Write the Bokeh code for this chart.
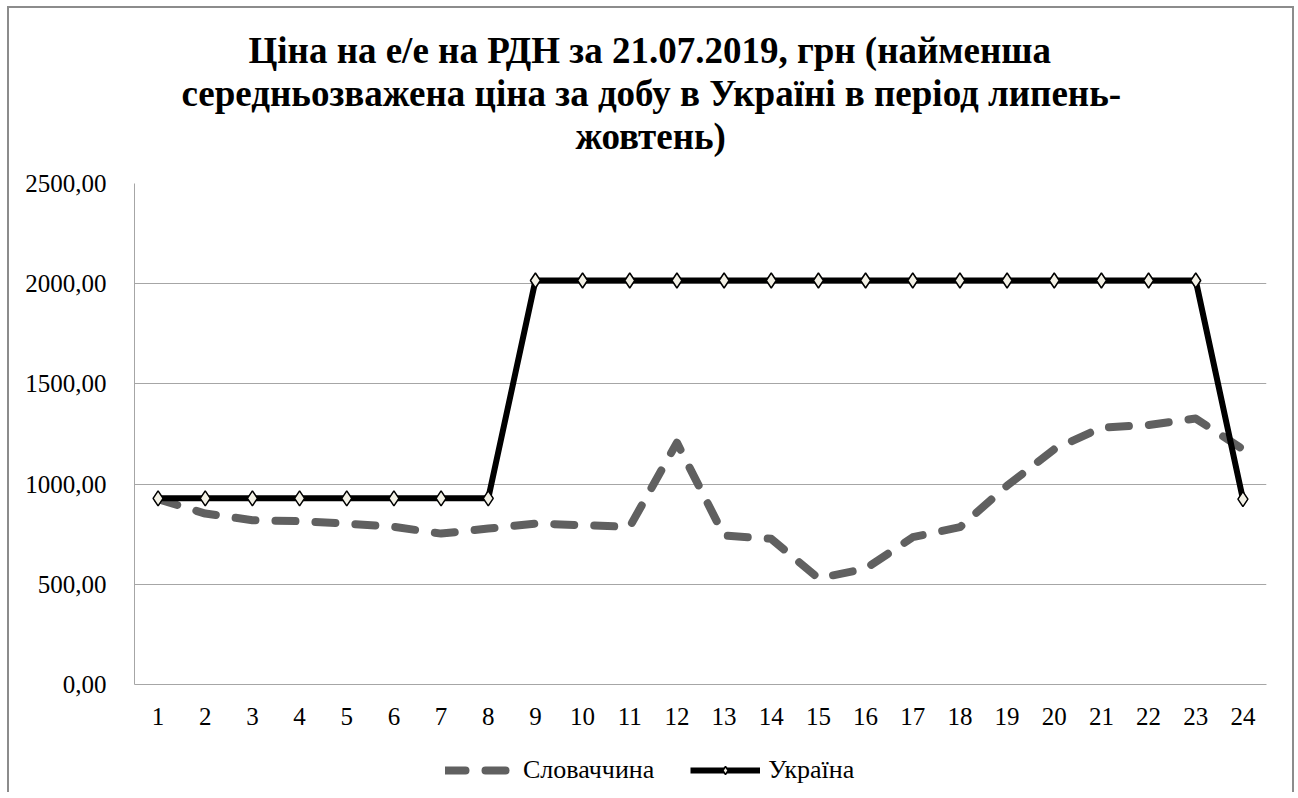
from bokeh.plotting import figure
from bokeh.layouts import column
from bokeh.models import Title, FixedTicker, Legend, LegendItem, Range1d
from bokeh.embed import file_html
from bokeh.resources import INLINE

hours = list(range(1, 25))
slovakia = [925, 853, 820, 815, 803, 787, 753, 778, 803, 795, 787, 1207,
            743, 727, 530, 578, 735, 785, 992, 1174, 1282, 1295, 1327, 1174]
ukraine = [929, 929, 929, 929, 929, 929, 929, 929, 2016, 2016, 2016, 2016,
           2016, 2016, 2016, 2016, 2016, 2016, 2016, 2016, 2016, 2016, 2016, 925]
y_ticks = [0, 500, 1000, 1500, 2000, 2500]
y_labels = ["0,00", "500,00", "1000,00", "1500,00", "2000,00", "2500,00"]
title_lines = ["Ціна на е/е на РДН за 21.07.2019, грн (найменша",
               "середньозважена ціна за добу в Україні в період липень-",
               "жовтень)"]
title_offsets = [114, 47, 441]
names = ["Словаччина", "Україна"]

FONT = "Liberation Serif"
SK_STYLE = dict(line_color="#606060", line_width=8, line_dash="20 20",
                line_cap="round", line_join="round")
UA_LINE = dict(line_color="black", line_width=6, line_join="round")
UA_MARK = dict(marker="diamond", size=15, fill_color="#f3f1e6",
               line_color="black", line_width=1.5)

p = figure(frame_width=1132, frame_height=501, output_backend="svg",
           toolbar_location=None,
           x_range=Range1d(0.5, 24.5), y_range=Range1d(0, 2500),
           min_border_left=125, min_border_right=26, min_border_top=175,
           min_border_bottom=50)
p.outline_line_color = None
p.background_fill_color = "white"
p.border_fill_color = "white"

p.add_layout(Title(text=" ", text_font=FONT, text_font_size="22px", standoff=0), "above")
for line, off in reversed(list(zip(title_lines, title_offsets))):
    t = Title(text=line, align="left", offset=off, text_font=FONT,
              text_font_size="37px", text_font_style="bold",
              text_color="black", standoff=0)
    p.add_layout(t, "above")

p.xgrid.grid_line_color = None
p.ygrid.grid_line_color = "#a6a6a6"
p.ygrid.grid_line_width = 1

p.yaxis.ticker = FixedTicker(ticks=y_ticks)
p.yaxis.major_label_overrides = {t: l for t, l in zip(y_ticks, y_labels)}
p.xaxis.ticker = FixedTicker(ticks=hours)
p.xaxis.major_label_overrides = {h: str(h) for h in hours}
for ax in (p.xaxis, p.yaxis):
    ax.axis_line_color = "#a6a6a6"
    ax.axis_line_width = 1
    ax.major_tick_line_color = None
    ax.minor_tick_line_color = None
    ax.major_label_text_font = FONT
    ax.major_label_text_font_size = "25px"
    ax.major_label_text_color = "black"
p.yaxis.major_label_standoff = 22
p.xaxis.major_label_standoff = 17

p.line(hours, slovakia, **SK_STYLE)
p.line(hours, ukraine, **UA_LINE)
p.scatter(hours, ukraine, **UA_MARK)

# legend strip below the chart (sample glyphs sit outside the visible range)
q = figure(frame_width=1283, frame_height=58, output_backend="svg",
           toolbar_location=None, x_axis_location=None, y_axis_location=None,
           x_range=Range1d(0, 1), y_range=Range1d(0, 1),
           min_border=0, min_border_left=0, min_border_right=0,
           min_border_top=0, min_border_bottom=0)
q.outline_line_color = None
q.xgrid.grid_line_color = None
q.ygrid.grid_line_color = None
q.background_fill_color = "white"
q.border_fill_color = "white"
off_x = [-5, -4]
off_y = [-5, -5]
l_sk = q.line(x=off_x, y=off_y, **SK_STYLE)
l_ua = q.line(x=off_x, y=off_y, **UA_LINE)
l_ua_m = q.scatter(x=off_x, y=off_y, **UA_MARK)

legend = Legend(items=[LegendItem(label=names[0], renderers=[l_sk]),
                       LegendItem(label=names[1], renderers=[l_ua, l_ua_m])],
                orientation="horizontal", location=(436, 7),
                label_text_font=FONT, label_text_font_size="26px",
                label_text_color="black", glyph_width=70, glyph_height=20,
                label_standoff=8, spacing=36, border_line_color=None,
                background_fill_alpha=0, padding=4, margin=0)
q.add_layout(legend, "center")

layout = column(p, q, spacing=0,
                styles={"border-left": "2px solid #8c8c8c",
                        "border-top": "2px solid #8c8c8c",
                        "border-right": "2px solid #8c8c8c",
                        "margin-left": "7px", "margin-top": "6px"})

open("out.html", "w").write(file_html(layout, INLINE))
